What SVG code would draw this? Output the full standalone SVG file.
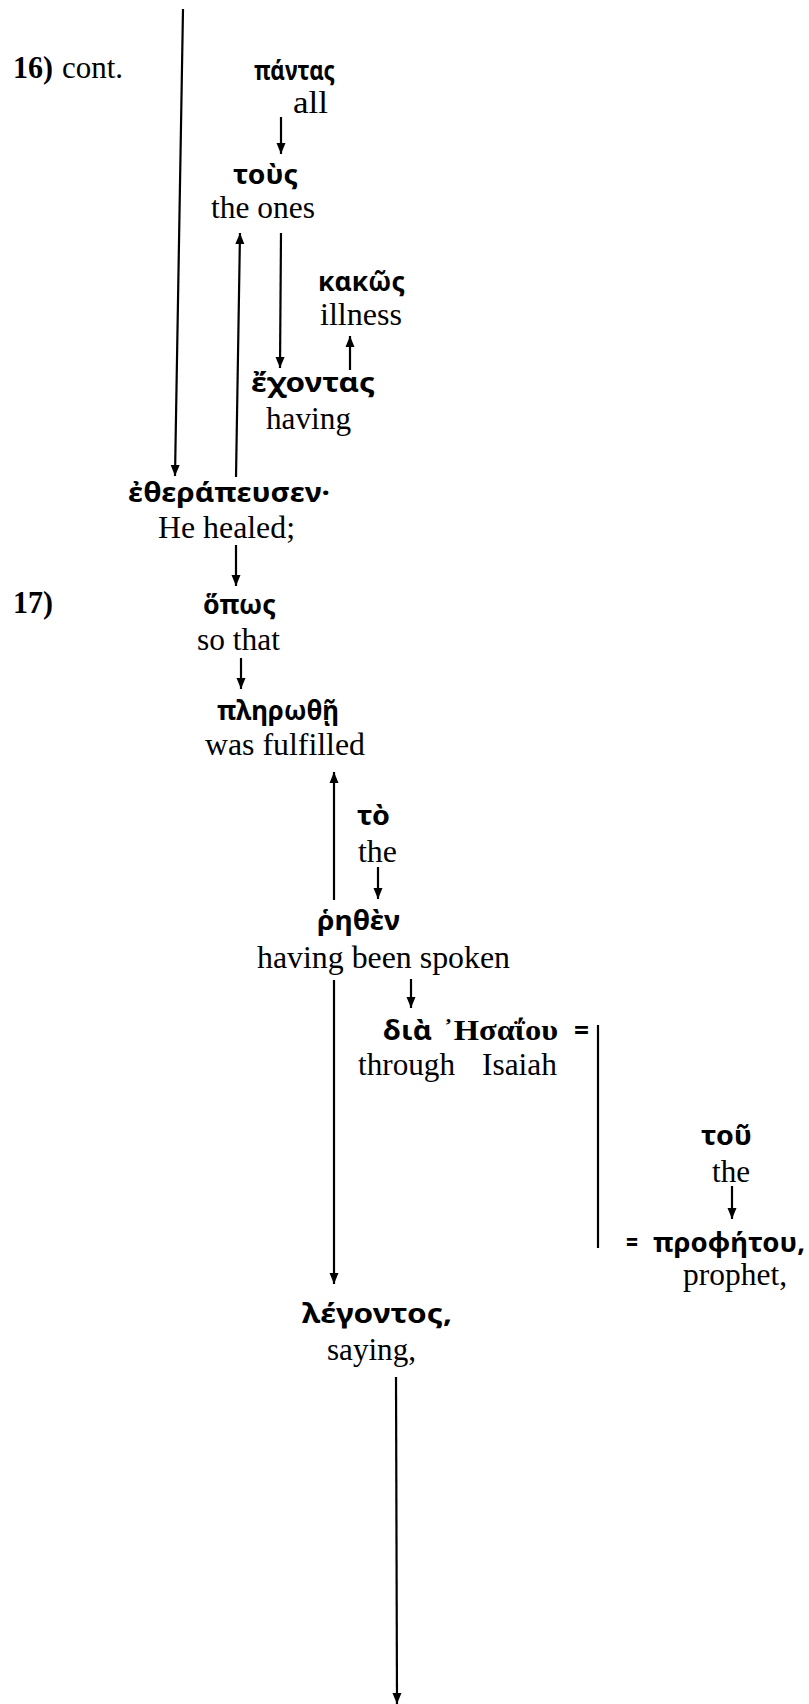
<svg xmlns="http://www.w3.org/2000/svg" width="809" height="1704" viewBox="0 0 809 1704">
<style>
.gr{font-family:"Noto Sans","DejaVu Sans",sans-serif;font-weight:700;font-size:26px;fill:#000}
.grs{font-family:"Liberation Serif","Times New Roman",serif;font-weight:700;font-size:29px;fill:#000}
.en{font-family:"Liberation Serif","Times New Roman",serif;font-size:31px;fill:#000}
.num{font-family:"Liberation Serif","Times New Roman",serif;font-weight:700;font-size:31px;fill:#000}
.c line{stroke:#000;stroke-width:2.2;fill:none}
</style>
<defs>
<marker id="ah" markerUnits="userSpaceOnUse" markerWidth="13" markerHeight="10" viewBox="-12 -5 13 10" refX="0" refY="0" orient="auto">
<path d="M0,0 L-11,-4.5 L-11,4.5 Z" fill="#000"/>
</marker>
</defs>
<g id="connectors" class="c">
<line x1="183" y1="9" x2="175" y2="476" marker-end="url(#ah)"/>
<line x1="281" y1="117" x2="281" y2="154" marker-end="url(#ah)"/>
<line x1="236" y1="477" x2="240" y2="233" marker-end="url(#ah)"/>
<line x1="281" y1="233" x2="280" y2="368" marker-end="url(#ah)"/>
<line x1="350" y1="370" x2="350" y2="336" marker-end="url(#ah)"/>
<line x1="236" y1="545" x2="236" y2="586" marker-end="url(#ah)"/>
<line x1="241" y1="658" x2="241" y2="689" marker-end="url(#ah)"/>
<line x1="334" y1="900" x2="334" y2="772" marker-end="url(#ah)"/>
<line x1="378" y1="867" x2="378" y2="899" marker-end="url(#ah)"/>
<line x1="411" y1="979" x2="411" y2="1008" marker-end="url(#ah)"/>
<line x1="598" y1="1025" x2="598" y2="1248"/>
<line x1="334" y1="980" x2="334" y2="1284" marker-end="url(#ah)"/>
<line x1="732" y1="1186" x2="732" y2="1219" marker-end="url(#ah)"/>
<line x1="396" y1="1377" x2="397" y2="1704" marker-end="url(#ah)"/>
</g>
<g id="label16">
<text class="num" x="13" y="78" textLength="40" lengthAdjust="spacingAndGlyphs">16)</text>
<text class="en" x="62" y="78" textLength="61" lengthAdjust="spacingAndGlyphs">cont.</text>
</g>
<g id="n-pantas">
<text class="gr" x="254" y="80" textLength="81" lengthAdjust="spacingAndGlyphs">πάντας</text>
<text class="en" x="293" y="113" textLength="35" lengthAdjust="spacingAndGlyphs">all</text>
</g>
<g id="n-tous">
<text class="gr" x="233" y="184" textLength="65" lengthAdjust="spacingAndGlyphs">τοὺς</text>
<text class="en" x="211" y="218" textLength="104" lengthAdjust="spacingAndGlyphs">the ones</text>
</g>
<g id="n-kakos">
<text class="gr" x="318" y="291" textLength="87" lengthAdjust="spacingAndGlyphs">κακῶς</text>
<text class="en" x="320" y="325" textLength="82" lengthAdjust="spacingAndGlyphs">illness</text>
</g>
<g id="n-echontas">
<text class="gr" x="251" y="392" textLength="124" lengthAdjust="spacingAndGlyphs">ἔχοντας</text>
<text class="en" x="266" y="429" textLength="85" lengthAdjust="spacingAndGlyphs">having</text>
</g>
<g id="n-etherapeusen">
<text class="gr" x="128" y="502" textLength="202" lengthAdjust="spacingAndGlyphs">ἐθεράπευσεν·</text>
<text class="en" x="158" y="538" textLength="137" lengthAdjust="spacingAndGlyphs">He healed;</text>
</g>
<g id="label17">
<text class="num" x="13" y="613" textLength="40" lengthAdjust="spacingAndGlyphs">17)</text>
</g>
<g id="n-hopos">
<text class="gr" x="203" y="614" textLength="73" lengthAdjust="spacingAndGlyphs">ὅπως</text>
<text class="en" x="197" y="650" textLength="83" lengthAdjust="spacingAndGlyphs">so that</text>
</g>
<g id="n-plerothe">
<text class="gr" x="217" y="720" textLength="122" lengthAdjust="spacingAndGlyphs">πληρωθῇ</text>
<text class="en" x="205" y="755" textLength="160" lengthAdjust="spacingAndGlyphs">was fulfilled</text>
</g>
<g id="n-to">
<text class="gr" x="357" y="825" textLength="33" lengthAdjust="spacingAndGlyphs">τὸ</text>
<text class="en" x="358" y="862" textLength="39" lengthAdjust="spacingAndGlyphs">the</text>
</g>
<g id="n-rhethen">
<text class="gr" x="317" y="930" textLength="83" lengthAdjust="spacingAndGlyphs">ῥηθὲν</text>
<text class="en" x="257" y="968" textLength="253" lengthAdjust="spacingAndGlyphs">having been spoken</text>
</g>
<g id="n-dia-esaiou">
<text class="gr" x="383" y="1040" textLength="49" lengthAdjust="spacingAndGlyphs">διὰ</text>
<text class="grs" x="443" y="1040" textLength="115" lengthAdjust="spacingAndGlyphs">᾿Ησαΐου</text>
<text class="gr" x="574" y="1040" textLength="15" lengthAdjust="spacingAndGlyphs">=</text>
<text class="en" x="358" y="1075" textLength="97" lengthAdjust="spacingAndGlyphs">through</text>
<text class="en" x="482" y="1075" textLength="75" lengthAdjust="spacingAndGlyphs">Isaiah</text>
</g>
<g id="n-tou">
<text class="gr" x="701" y="1145" textLength="51" lengthAdjust="spacingAndGlyphs">τοῦ</text>
<text class="en" x="712" y="1182" textLength="38" lengthAdjust="spacingAndGlyphs">the</text>
</g>
<g id="n-prophetou">
<text class="gr" x="626" y="1252" textLength="12" lengthAdjust="spacingAndGlyphs">=</text>
<text class="gr" x="653" y="1252" textLength="152" lengthAdjust="spacingAndGlyphs">προφήτου,</text>
<text class="en" x="683" y="1285" textLength="104" lengthAdjust="spacingAndGlyphs">prophet,</text>
</g>
<g id="n-legontos">
<text class="gr" x="302" y="1323" textLength="150" lengthAdjust="spacingAndGlyphs">λέγοντος,</text>
<text class="en" x="327" y="1360" textLength="89" lengthAdjust="spacingAndGlyphs">saying,</text>
</g>
</svg>
